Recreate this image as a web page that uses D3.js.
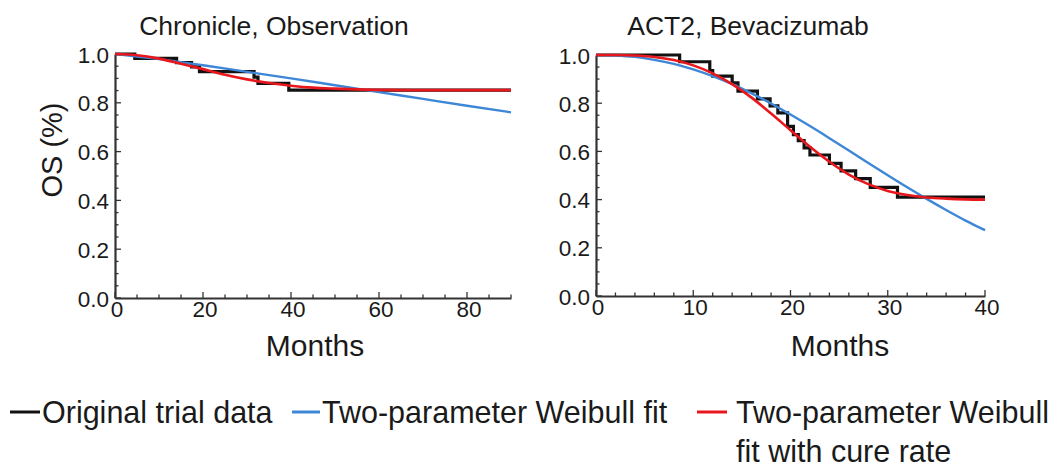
<!DOCTYPE html>
<html>
<head>
<meta charset="utf-8">
<script src="https://cdn.jsdelivr.net/npm/d3@7"></script>
<style>
  html, body { margin: 0; padding: 0; background: #fff; }
  text { font-family: "Liberation Sans", Arial, Helvetica, sans-serif; fill: #1a1a1a; }
</style>
</head>
<body>
<svg id="chart" width="1059" height="471"></svg>
<script>
// ---------- Data ----------
// Panel 1: Chronicle, Observation
const chronKmMonths = [0, 4.5, 14, 17.4, 19.2, 31.6, 32.5, 39.5, 90];
const chronKmOS     = [1.0, 0.982, 0.965, 0.947, 0.928, 0.905, 0.88, 0.852, 0.852];
const chronFitMonths = [0, 10, 20, 30, 40, 50, 60, 70, 80, 90];
const chronWeibull   = [1.0, 0.979, 0.954, 0.927, 0.900, 0.872, 0.844, 0.816, 0.788, 0.761];
const chronCureMonths = [0, 5, 10, 15, 20, 25, 30, 35, 40, 45, 50, 55, 60, 70, 80, 90];
const chronCure       = [1.0, 0.995, 0.981, 0.960, 0.938, 0.915, 0.896, 0.881, 0.870, 0.862, 0.858, 0.855, 0.853, 0.852, 0.852, 0.852];

// Panel 2: ACT2, Bevacizumab
const act2KmMonths = [0, 8.6, 11.7, 12.0, 14.0, 14.6, 16.6, 17.9, 18.7, 19.7, 20.3, 20.8, 21.4, 22.0, 24.0, 25.2, 26.7, 28.2, 31.0, 40];
const act2KmOS     = [1.0, 0.972, 0.935, 0.912, 0.884, 0.85, 0.818, 0.789, 0.76, 0.704, 0.67, 0.645, 0.615, 0.585, 0.55, 0.519, 0.487, 0.451, 0.41, 0.41];
const act2FitMonths = [0, 2, 4, 6, 8, 10, 12, 14, 16, 18, 20, 22, 24, 26, 28, 30, 32, 34, 36, 38, 40];
const act2Weibull   = [1.0, 0.998, 0.992, 0.980, 0.963, 0.940, 0.912, 0.879, 0.841, 0.799, 0.753, 0.705, 0.655, 0.604, 0.552, 0.501, 0.451, 0.403, 0.357, 0.313, 0.273];
const act2Cure      = [1.0, 1.0, 0.998, 0.992, 0.979, 0.957, 0.924, 0.879, 0.823, 0.757, 0.688, 0.619, 0.557, 0.504, 0.464, 0.436, 0.419, 0.409, 0.404, 0.401, 0.400];

const panelTitles = ["Chronicle, Observation", "ACT2, Bevacizumab"];
const yTicks = [0.0, 0.2, 0.4, 0.6, 0.8, 1.0];
const chronXTicks = [0, 20, 40, 60, 80];
const act2XTicks = [0, 10, 20, 30, 40];
const legendLabels = ["Original trial data", "Two-parameter Weibull fit", "Two-parameter Weibull", "fit with cure rate"];

// ---------- Styles ----------
const colKM = "#111111", colWeib = "#3d87d6", colCure = "#e8171c";
const axisCol = "#333333";

const svg = d3.select("#chart");

function panel(cfg) {
  const x = d3.scaleLinear().domain(cfg.xDomain).range(cfg.xRange);
  const y = d3.scaleLinear().domain([0, 1]).range(cfg.yRange);
  const g = svg.append("g");

  // minor ticks (inward)
  const xMinor = d3.range(cfg.xDomain[0], cfg.xDomain[1] + 1e-9, cfg.xMinorStep);
  const yMinor = d3.range(0, 1 + 1e-9, 0.05);
  g.selectAll(".xm").data(xMinor).join("line")
    .attr("x1", d => x(d)).attr("x2", d => x(d))
    .attr("y1", cfg.yRange[0]).attr("y2", d => cfg.yRange[0] - (cfg.xTicks.includes(+d.toFixed(6)) ? 6 : 3.5))
    .attr("stroke", axisCol).attr("stroke-width", 1.3);
  g.selectAll(".ym").data(yMinor).join("line")
    .attr("y1", d => y(d)).attr("y2", d => y(d))
    .attr("x1", cfg.xRange[0]).attr("x2", d => cfg.xRange[0] + (Math.round(d * 100) % 20 === 0 ? 6 : 3.5))
    .attr("stroke", axisCol).attr("stroke-width", 1.3);

  // axes with D3 axis generators
  const xAxis = d3.axisBottom(x).tickValues(cfg.xTicks).tickSize(0).tickPadding(3).tickFormat(d3.format("d"));
  const yAxis = d3.axisLeft(y).tickValues(yTicks).tickSize(0).tickPadding(6).tickFormat(d3.format(".1f"));
  const gx = g.append("g").attr("transform", `translate(0,${cfg.yRange[0]})`).call(xAxis);
  const gy = g.append("g").attr("transform", `translate(${cfg.xRange[0]},0)`).call(yAxis);
  [gx, gy].forEach(a => {
    a.select(".domain").attr("stroke", axisCol).attr("stroke-width", 2.2);
    a.selectAll("text").attr("font-size", 22.5).attr("fill", "#1a1a1a")
      .style("font-family", '"Liberation Sans", Arial, sans-serif');
  });
  gx.selectAll("text").attr("dy", "0.72em").attr("dx", 1.5);
  gy.selectAll("text").attr("dy", "0.36em");

  // Data lines
  const km = cfg.kmT.map((t, i) => [t, cfg.kmV[i]]);
  const wb = cfg.fitT.map((t, i) => [t, cfg.wb[i]]);
  const cu = cfg.cureT.map((t, i) => [t, cfg.cure[i]]);
  const stepLine = d3.line().x(d => x(d[0])).y(d => y(d[1])).curve(d3.curveStepAfter);
  const smooth = d3.line().x(d => x(d[0])).y(d => y(d[1])).curve(d3.curveMonotoneX);
  g.append("path").attr("d", stepLine(km)).attr("fill", "none").attr("stroke", colKM).attr("stroke-width", 3.2);
  g.append("path").attr("d", smooth(wb)).attr("fill", "none").attr("stroke", colWeib).attr("stroke-width", 2.4);
  g.append("path").attr("d", smooth(cu)).attr("fill", "none").attr("stroke", colCure).attr("stroke-width", 2.6);

  // Title
  g.append("text").attr("x", cfg.titleX).attr("y", 35).attr("text-anchor", "middle")
    .attr("font-size", 26.5).text(cfg.title);
  // X label
  g.append("text").attr("x", cfg.xLabelX).attr("y", 356).attr("text-anchor", "middle")
    .attr("font-size", 30).text("Months");
}

panel({
  xDomain: [0, 90], xRange: [115, 511], yRange: [298, 54], xMinorStep: 5,
  xTicks: chronXTicks, kmT: chronKmMonths, kmV: chronKmOS,
  fitT: chronFitMonths, wb: chronWeibull, cureT: chronCureMonths, cure: chronCure,
  title: panelTitles[0], titleX: 274, xLabelX: 315
});
panel({
  xDomain: [0, 40], xRange: [596, 985], yRange: [296, 55], xMinorStep: 2,
  xTicks: act2XTicks, kmT: act2KmMonths, kmV: act2KmOS,
  fitT: act2FitMonths, wb: act2Weibull, cureT: act2FitMonths, cure: act2Cure,
  title: panelTitles[1], titleX: 748, xLabelX: 840
});

// Y label
svg.append("text").attr("transform", "translate(62,150) rotate(-90)")
  .attr("text-anchor", "middle").attr("font-size", 29).text("OS (%)");

// Legend
const legY = 412;
const leg = [
  { x1: 10, x2: 40, col: colKM, tx: 42, lines: [legendLabels[0]] },
  { x1: 292, x2: 320, col: colWeib, tx: 322, lines: [legendLabels[1]] },
  { x1: 697, x2: 727, col: colCure, tx: 736, lines: [legendLabels[2], legendLabels[3]] }
];
leg.forEach(l => {
  svg.append("line").attr("x1", l.x1).attr("x2", l.x2).attr("y1", legY).attr("y2", legY)
    .attr("stroke", l.col).attr("stroke-width", 3);
  l.lines.forEach((s, i) => {
    svg.append("text").attr("x", l.tx).attr("y", legY + 11 + i * 39)
      .attr("font-size", 30.5).text(s);
  });
});
</script>
</body>
</html>
